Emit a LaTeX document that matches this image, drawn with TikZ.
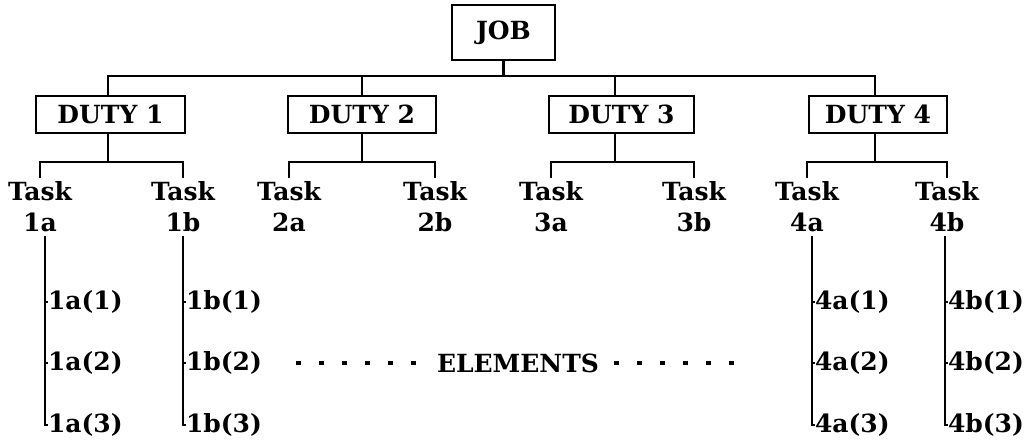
\documentclass[tikz,border=0pt]{standalone}
\usepackage{fontspec}
\setmainfont{DejaVu Serif}
\begin{document}
\begin{tikzpicture}[x=1pt,y=-1pt,
  every node/.style={font=\bfseries\fontsize{25}{31}\selectfont, inner sep=0pt, outer sep=0pt},
  box/.style={draw, line width=2.4pt, minimum height=37pt},
  task/.style={align=center, inner ysep=4pt, anchor=north},
  elem/.style={anchor=west, inner xsep=3pt},
  ln/.style={line width=2.8pt},
  dotrow/.style={line width=3.4pt, dash pattern=on 5pt off 18pt}]
\useasboundingbox (0,0) rectangle (1030,441);
% job and duties
\node[box, minimum width=103pt, minimum height=55pt] (job) at (503.5,32.5) {JOB};
\node[box, minimum width=149pt] (d1) at (110.5,114.5) {DUTY 1};
\node[box, minimum width=148pt] (d2) at (362,114.5) {DUTY 2};
\node[box, minimum width=145pt] (d3) at (621.5,114.5) {DUTY 3};
\node[box, minimum width=138pt] (d4) at (878,114.5) {DUTY 4};
\coordinate (hl) at (0,76);
\draw[ln] (job.south) -- (job.south |- hl);
\draw[ln] ([xshift=-2.5pt]d1.north) |- ([xshift=-3pt]d4.north |- hl) -- ([xshift=-3pt]d4.north);
\draw[ln] (d2.north) -- (d2.north |- hl);
\draw[ln] ([xshift=-6.5pt]d3.north) -- ([xshift=-6.5pt]d3.north |- hl);
% tasks
\node[task] (t1a) at (40,178) {Task\\1a};
\node[task] (t1b) at (183,178) {Task\\1b};
\node[task] (t2a) at (289,178) {Task\\2a};
\node[task] (t2b) at (435,178) {Task\\2b};
\node[task] (t3a) at (551,178) {Task\\3a};
\node[task] (t3b) at (694,178) {Task\\3b};
\node[task] (t4a) at (807,178) {Task\\4a};
\node[task] (t4b) at (947,178) {Task\\4b};
\coordinate (bl) at (0,162);
\draw[ln] ([xshift=-2.5pt]d1.south) -- ([xshift=-2.5pt]d1.south |- bl);
\draw[ln] (t1a.north) |- (t1b.north |- bl) -- (t1b.north);
\draw[ln] (d2.south) -- (d2.south |- bl);
\draw[ln] (t2a.north) |- (t2b.north |- bl) -- (t2b.north);
\draw[ln] ([xshift=-6.5pt]d3.south) -- ([xshift=-6.5pt]d3.south |- bl);
\draw[ln] (t3a.north) |- (t3b.north |- bl) -- (t3b.north);
\draw[ln] ([xshift=-3pt]d4.south) -- ([xshift=-3pt]d4.south |- bl);
\draw[ln] (t4a.north) |- (t4b.north |- bl) -- (t4b.north);
% elements
\foreach \t/\x in {1a/45,1b/183,4a/812,4b/945}{
  \node[elem] (e\t1) at (\x,302) {\t(1)};
  \node[elem] (e\t2) at (\x,363) {\t(2)};
  \node[elem] (e\t3) at (\x,425) {\t(3)};
  \draw[ln] (t\t.south -| e\t1.west) |- ([xshift=3pt]e\t3.west);
  \draw[ln] (e\t1.west) -- ++(3,0);
  \draw[ln] (e\t2.west) -- ++(3,0);
}
\node (el) at (518,363) {ELEMENTS};
\coordinate (dl) at (296,363);
\coordinate (dr) at (734,363);
\draw[dotrow] (dl) -- ([xshift=-18pt]el.west);
\draw[dotrow] ([xshift=15pt]el.east) -- (dr);
\end{tikzpicture}
\end{document}
